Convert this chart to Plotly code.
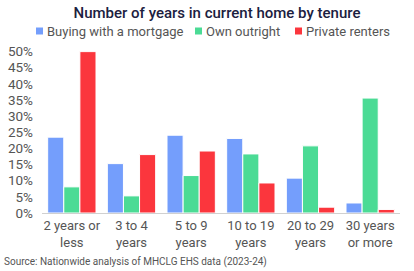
import plotly.graph_objects as go

categories = ["2 years or<br>less", "3 to 4<br>years", "5 to 9<br>years", "10 to 19<br>years", "20 to 29<br>years", "30 years<br>or more"]
mortgage = [23.5, 15.3, 24.1, 23.1, 10.8, 3.1]
outright = [8.1, 5.3, 11.6, 18.3, 20.8, 35.6]
renters = [50.0, 18.1, 19.2, 9.3, 1.8, 1.1]
series_names = ["Buying with a mortgage", "Own outright", "Private renters"]
series_colors = ["#749efc", "#4bdb95", "#fb363d"]
y_ticks = [0, 5, 10, 15, 20, 25, 30, 35, 40, 45, 50]
y_labels = [f"{v}%" for v in y_ticks]

FONT = "Roboto, sans-serif"
W, H = 414, 271
L, R, T, B = 42, 14, 50, 58
PW, PH = W - L - R, H - T - B

fig = go.Figure()
for name, vals, col in zip(series_names, [mortgage, outright, renters], series_colors):
    fig.add_trace(go.Bar(x=categories, y=vals, name=name, marker_color=col,
                         marker_line_color="white", marker_line_width=1, showlegend=False))

fig.update_layout(
    width=W, height=H,
    margin=dict(l=L, r=R, t=T, b=B, autoexpand=False),
    paper_bgcolor="white", plot_bgcolor="white",
    barmode="group", bargap=0.19, bargroupgap=0.0,
    font=dict(family=FONT, color="#555555", size=13),
    title=dict(text="Number of years in current home by tenure", x=217 / W, xanchor="center",
               y=1 - 13 / H, yanchor="middle",
               font=dict(size=15, color="#1b2040", family=FONT, weight=500)),
    showlegend=False,
)
fig.update_yaxes(range=[0, 50.5], tickvals=y_ticks, ticktext=y_labels, showgrid=False,
                 zeroline=False, showline=False, ticks="", ticklabelstandoff=8,
                 automargin=False, tickfont=dict(size=13.5, color="#555555"))
fig.update_xaxes(showline=True, linecolor="#d0d0d0", linewidth=1, ticks="",
                 automargin=False, tickfont=dict(size=13, color="#555555"))

# manual legend (px positions converted to paper coords)
def px(x):
    return (x - L) / PW

def py(y):
    return (H - B - y) / PH

leg_x = [36, 195, 295]
leg_y = 31
for name, col, x0 in zip(series_names, series_colors, leg_x):
    fig.add_shape(type="rect", xref="paper", yref="paper", x0=px(x0), x1=px(x0 + 7),
                  y0=py(leg_y + 3.5), y1=py(leg_y - 3.5), fillcolor=col, line_width=0)
    fig.add_annotation(text=name, xref="paper", yref="paper", x=px(x0 + 9), y=py(leg_y),
                       xanchor="left", yanchor="middle", showarrow=False,
                       font=dict(size=13, color="#555555", family=FONT))

fig.add_annotation(text="Source: Nationwide analysis of MHCLG EHS data (2023-24)",
                   xref="paper", yref="paper", x=px(2), y=py(262),
                   xanchor="left", yanchor="middle", showarrow=False,
                   font=dict(size=10, color="#555555", family=FONT))
fig.write_html("out.html")
